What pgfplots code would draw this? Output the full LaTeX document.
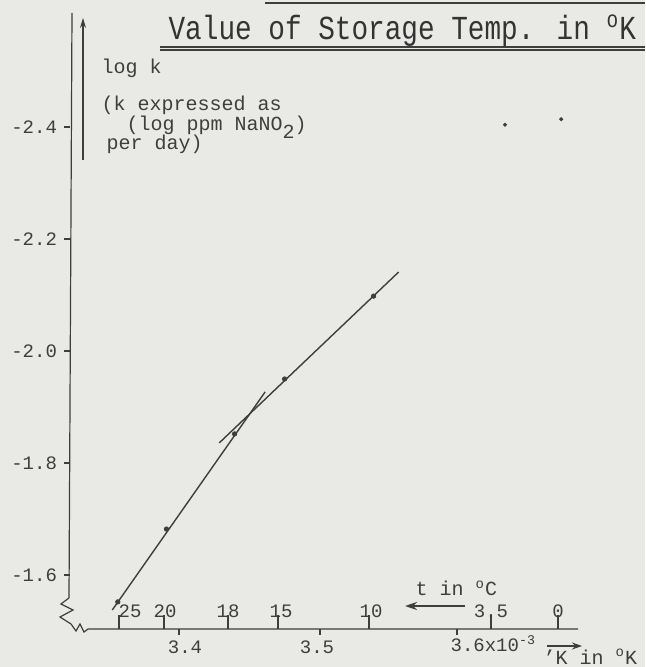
\documentclass[border=0pt]{standalone}
\usepackage{pgfplots}
\pgfplotsset{compat=1.18}
\usetikzlibrary{arrows.meta}
\usepackage{fontspec}
\setmainfont{Liberation Mono}
\definecolor{bg}{RGB}{233,233,230}
\definecolor{ink}{RGB}{62,62,62}
\begin{document}
\begin{tikzpicture}
\fill[bg] (0,0) rectangle (322.5pt,333.5pt);
\useasboundingbox (0,0) rectangle (322.5pt,333.5pt);
\begin{axis}[
  at={(35pt,18.5pt)}, anchor=south west, scale only axis,
  width=265pt, height=308.5pt,
  xmin=3.3216, xmax=3.7029, ymin=-2.6036, ymax=-1.5018, y dir=reverse,
  axis line style={draw=none},
  xtick=\empty,
  ytick={-2.4,-2.2,-2.0,-1.8,-1.6},
  yticklabels={-2.4,-2.2,-2.0,-1.8,-1.6},
  ytick pos=left, tick align=outside, major tick length=3pt,
  tick style={ink, line width=0.6pt},
  yticklabel style={font=\fontsize{9.5}{10}\selectfont, text=ink},
  clip=false]
\addplot[ink, line width=0.7pt] coordinates {(3.352,-1.5375) (3.462,-1.927)};
\addplot[ink, line width=0.7pt] coordinates {(3.429,-1.836) (3.558,-2.141)};
\addplot[only marks, mark=*, mark size=1.1pt, ink] coordinates {
  (3.356,-1.552) (3.391,-1.682) (3.440,-1.852) (3.476,-1.950) (3.540,-2.098)};
\addplot[only marks, mark=*, mark size=0.8pt, ink] coordinates {(3.6345,-2.404) (3.675,-2.414)};
\end{axis}
\begin{scope}[shift={(0pt,333.5pt)}, x=0.5pt, y=-0.5pt, ink, line width=0.6pt]
  % top edge line and title
  \draw[line width=1.4pt] (265,3) -- (645,3);
  \node[anchor=base west, inner sep=0, font=\fontsize{14}{16}\selectfont, text=black!80] at (168,40)
    {\scalebox{0.99}[1.2]{Value of Storage Temp. in \textsuperscript{o}K}};
  \draw[line width=1.2pt] (160,47) -- (645,47);
  \draw[line width=0.6pt] (160,50) -- (645,50);
  % y axis and arrow
  \draw (72,13) -- (69,598);
  \draw[-{Stealth[length=5pt,width=3pt]}] (83,160) -- (83,18);
  % zigzag break and x axis
  \draw (69,598) -- (61,604) -- (73,610) -- (60,617) -- (71,624) -- (76,631) -- (80,624) -- (84,632) -- (88,629) -- (578,629);
  % axis texts
  \node[anchor=base west, inner sep=0, font=\fontsize{10}{12}\selectfont] at (101,74) {log k};
  \node[anchor=base west, inner sep=0, font=\fontsize{10}{12}\selectfont] at (101,111) {(k expressed as};
  \node[anchor=base west, inner sep=0, font=\fontsize{10}{12}\selectfont] at (126,131) {(log ppm NaNO\raisebox{-0.7ex}{2})};
  \node[anchor=base west, inner sep=0, font=\fontsize{10}{12}\selectfont] at (106,150) {per day)};
  % upper ticks (t in C)
  \foreach \px/\lab/\lx in {119/25/130, 164/20/165, 228/18/228, 278/15/281, 369/10/371, 491/3.5/491, 558/0/558}{
    \draw (\px,629) -- (\px,615);
    \node[anchor=base, inner sep=0, font=\fontsize{9.5}{11}\selectfont] at (\lx,618) {\lab};
  }
  \node[anchor=base west, inner sep=0, font=\fontsize{10}{12}\selectfont] at (415,596) {t in \textsuperscript{o}C};
  \draw[-{Stealth[length=6pt,width=4pt]}, line width=0.8pt] (465,606) -- (405,606);
  % lower ticks (1/K)
  \foreach \px in {179,320,457}{ \draw (\px,629) -- (\px,635); }
  \node[anchor=base, inner sep=0, font=\fontsize{9.5}{11}\selectfont] at (185,654) {3.4};
  \node[anchor=base, inner sep=0, font=\fontsize{9.5}{11}\selectfont] at (317,654) {3.5};
  \node[anchor=base west, inner sep=0, font=\fontsize{9.5}{11}\selectfont] at (450,652) {3.6x10\textsuperscript{-3}};
  \draw[-{Stealth[length=5pt,width=3.5pt]}, line width=0.8pt] (547,646) -- (582,646);
  \node[anchor=base west, inner sep=0, font=\fontsize{10}{12}\selectfont] at (543,664) {'K in \textsuperscript{o}K};
\end{scope}
\end{tikzpicture}
\end{document}
